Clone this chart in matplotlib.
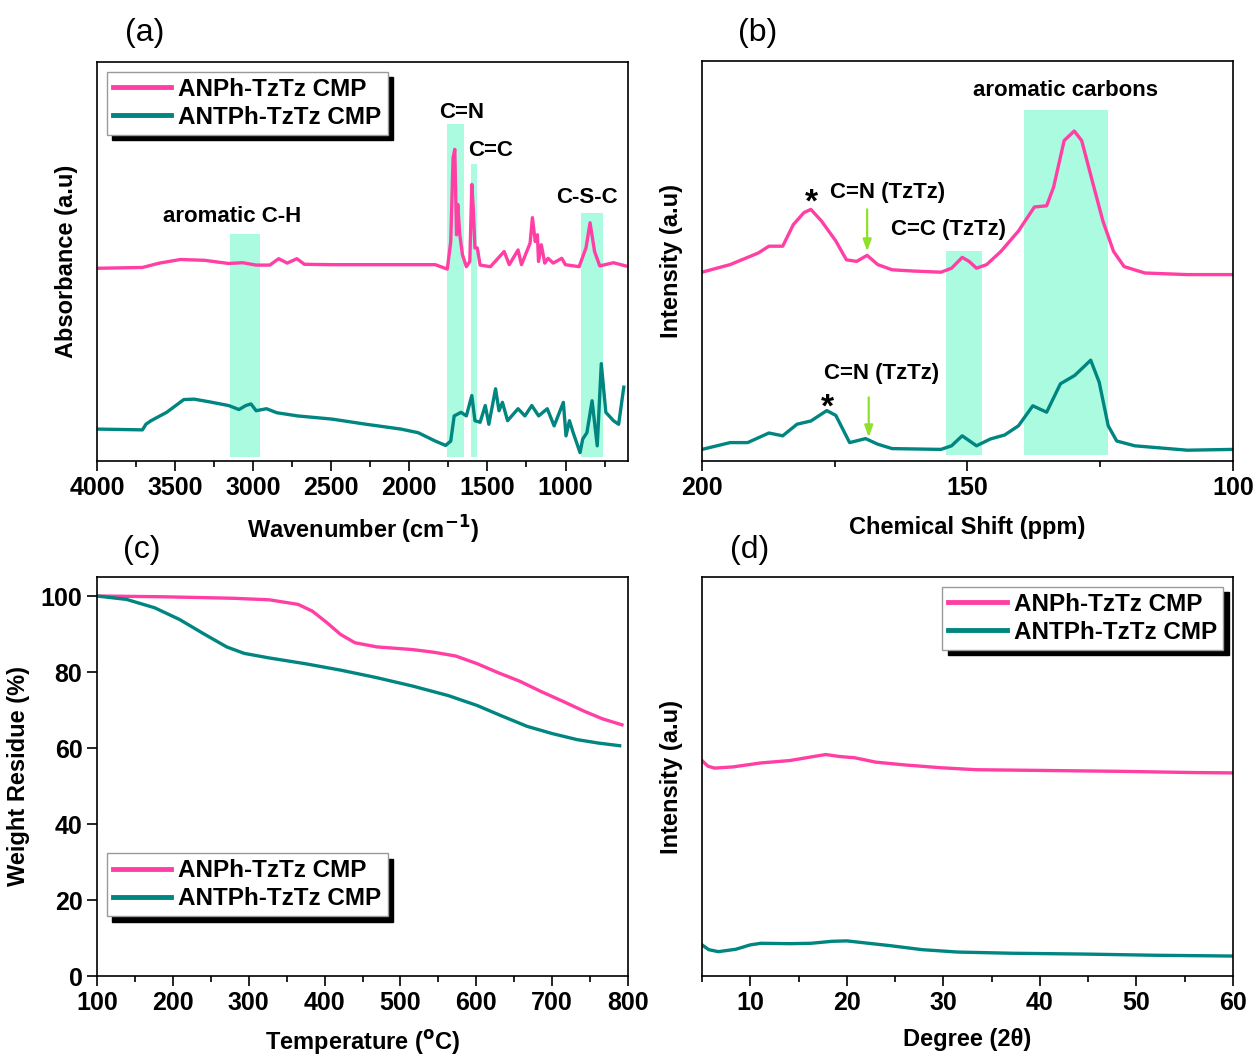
import matplotlib
matplotlib.use("Agg")
import matplotlib.pyplot as plt
from matplotlib.ticker import MultipleLocator

plt.rcParams["font.family"] = ["Liberation Sans", "DejaVu Sans"]
plt.rcParams["font.weight"] = "bold"
plt.rcParams["axes.labelweight"] = "bold"
plt.rcParams["mathtext.default"] = "bf"

PINK = "#ff3fa4"
TEAL = "#008580"
BAND = "#abfbe0"
ARROW = "#8fe02a"
LABELS = ["ANPh-TzTz CMP", "ANTPh-TzTz CMP"]

# (a) FTIR
ftir_x_p = [4000, 3709, 3600, 3466, 3312, 3157, 3069, 2981, 2893, 2837, 2782, 2720, 2672, 2495, 2054, 1834,
            1757, 1735, 1720, 1709, 1698, 1690, 1677, 1660, 1635, 1613, 1600, 1590, 1580, 1565, 1547, 1481,
            1393, 1360, 1304, 1282, 1227, 1212, 1194, 1180, 1173, 1155, 1133, 1112, 1079, 1024, 1001, 913,
            869, 843, 814, 781, 693, 616]
ftir_y_p = [48.3, 48.5, 49.6, 50.5, 50.3, 49.5, 49.7, 49.1, 49.1, 50.7, 49.6, 50.7, 49.3, 49.2, 49.2, 49.2,
            48.1, 55.0, 76.0, 78.1, 56.7, 64.3, 56.7, 51.7, 48.7, 50.0, 69.3, 62.6, 53.4, 53.4, 49.1, 48.7,
            52.5, 49.2, 52.9, 49.2, 54.6, 61.0, 55.0, 56.7, 50.0, 54.2, 49.6, 50.8, 49.6, 50.8, 49.2, 48.7,
            53.4, 59.7, 52.5, 48.9, 49.7, 48.9]
ftir_x_t = [4000, 3709, 3687, 3654, 3554, 3444, 3378, 3290, 3157, 3091, 3047, 3014, 2981, 2915, 2849, 2716,
            2495, 2275, 2054, 1944, 1834, 1768, 1735, 1713, 1669, 1635, 1600, 1580, 1547, 1514, 1491, 1448,
            1426, 1404, 1371, 1304, 1260, 1216, 1172, 1117, 1073, 1014, 997, 975, 951, 907, 890, 863, 830,
            797, 771, 742, 693, 660, 627]
ftir_y_t = [8.0, 7.8, 9.2, 10.1, 12.2, 15.4, 15.5, 14.9, 13.9, 12.9, 13.9, 14.3, 12.6, 13.1, 12.1, 11.3,
            10.5, 9.2, 8.0, 7.1, 5.0, 3.9, 5.0, 11.3, 12.2, 11.3, 16.4, 10.1, 9.7, 13.9, 9.2, 18.1, 12.6,
            14.7, 10.1, 13.1, 11.3, 13.9, 11.3, 13.1, 8.8, 14.7, 6.3, 10.1, 7.1, 2.1, 5.5, 7.1, 15.1, 3.8,
            24.4, 12.2, 10.1, 9.2, 18.5]
ftir_bands = [(3147, 2959, 57.0), (1757, 1648, 84.5), (1607, 1565, 74.4), (901, 759, 62.2)]

# (b) 13C NMR
nmr_x_p = [200, 194.7, 189.4, 187.4, 184.8, 182.8, 180.8, 179.5, 177.5, 174.8, 172.8, 170.9, 168.9, 166.9,
           164.2, 160.3, 155, 153, 151, 149.7, 148.3, 146.4, 143.7, 140.4, 137.4, 135.1, 133.8, 131.8, 129.9,
           128.5, 126.5, 124.5, 122.5, 120.5, 116.6, 108.6, 100]
nmr_y_p = [47.2, 49.1, 52.0, 53.7, 53.7, 59.1, 62.1, 62.9, 60.0, 55.0, 50.3, 49.9, 51.4, 49.1, 47.8, 47.5,
           47.2, 48.2, 50.9, 49.9, 48.2, 49.1, 52.4, 57.5, 63.5, 63.8, 68.4, 80.1, 82.5, 80.1, 70.0, 60.0,
           52.4, 48.6, 47.0, 46.6, 46.6]
nmr_x_t = [200, 194.7, 191.4, 187.4, 184.8, 182.1, 179.5, 176.5, 174.8, 172.2, 169.2, 166.9, 164.2, 155,
           153, 151, 148.3, 145.7, 143, 140.4, 137.7, 135.1, 132.5, 129.8, 126.8, 125.2, 123.5, 121.9, 118.5,
           108.6, 100]
nmr_y_t = [2.9, 4.6, 4.6, 7.0, 6.3, 9.2, 10.0, 12.6, 11.4, 4.6, 5.6, 4.2, 3.1, 2.9, 3.8, 6.3, 3.8, 5.5, 6.5,
           8.8, 13.8, 12.2, 19.3, 21.4, 25.2, 19.7, 8.8, 5.0, 3.8, 2.7, 2.9]
nmr_bands = [(154.1, 147.2, 52.4), (139.3, 123.6, 87.7)]

# (c) TGA
tga_x_p = [100, 186, 280, 327, 365, 384, 403, 421, 440, 469, 516, 544, 573, 601, 629, 657, 685, 714, 742,
           766, 792]
tga_y_p = [100, 99.8, 99.4, 99.0, 97.8, 96.0, 93.0, 89.9, 87.7, 86.6, 85.9, 85.2, 84.2, 82.2, 79.8, 77.6,
           74.9, 72.3, 69.7, 67.7, 66.1]
tga_x_t = [100, 139, 176, 209, 242, 271, 294, 327, 374, 421, 469, 516, 563, 601, 634, 667, 700, 733, 761, 789]
tga_y_t = [100, 99.1, 96.9, 93.8, 89.9, 86.6, 84.9, 83.7, 82.2, 80.5, 78.5, 76.3, 73.8, 71.2, 68.4, 65.7,
           63.8, 62.2, 61.3, 60.6]

# (d) PXRD
xrd_x_p = [5, 5.6, 6.3, 8.2, 11.1, 14.1, 16.3, 17.8, 19.3, 20.8, 23, 26, 29.7, 33.4, 40.8, 48.2, 55.6, 60]
xrd_y_p = [54.0, 52.6, 52.1, 52.4, 53.4, 54.0, 54.9, 55.5, 55.0, 54.7, 53.6, 52.9, 52.2, 51.7, 51.5, 51.3,
           51.0, 50.9]
xrd_x_t = [5, 5.7, 6.7, 8.5, 10, 11.1, 14.1, 16.3, 18.5, 20, 21.5, 24.5, 27.8, 31.5, 37.1, 44.5, 51.9, 60]
xrd_y_t = [7.8, 6.6, 6.1, 6.7, 7.8, 8.2, 8.1, 8.2, 8.7, 8.8, 8.4, 7.6, 6.6, 6.0, 5.7, 5.5, 5.2, 5.0]

W, H = 1254, 1056
fig = plt.figure(figsize=(W / 100, H / 100), dpi=100)


def box(x0, y0, x1, y1):
    return [x0 / W, 1 - y1 / H, (x1 - x0) / W, (y1 - y0) / H]


axa = fig.add_axes(box(97, 62, 628, 461))
axb = fig.add_axes(box(702, 61, 1233, 461))
axc = fig.add_axes(box(97, 577, 628, 976))
axd = fig.add_axes(box(702, 577, 1233, 976))

for ax in (axa, axb, axc, axd):
    for s in ax.spines.values():
        s.set_linewidth(1.2)
    ax.tick_params(which="both", direction="out", width=1.2, labelsize=18, top=False, right=False)
    ax.tick_params(which="major", length=7)
    ax.tick_params(which="minor", length=4)


def add_legend(ax, lines, loc, anchor=None):
    kw = {}
    if anchor is not None:
        kw["bbox_to_anchor"] = anchor
    leg = ax.legend(lines, LABELS, loc=loc, fontsize=17.5, fancybox=False, framealpha=1, edgecolor="#9a9a9a",
                    handlelength=2.4, handletextpad=0.3, labelspacing=0.2, borderpad=0.25,
                    borderaxespad=0.4,
                    shadow={"ox": 4, "oy": -4, "facecolor": "black", "edgecolor": "black", "alpha": 1},
                    **kw)
    leg.get_frame().set_linewidth(1.0)
    for ln in leg.get_lines():
        ln.set_linewidth(3.5)
    return leg


lw = 2.4

# (a)
for x0, x1, top in ftir_bands:
    axa.axvspan(x0, x1, ymin=0.01, ymax=top / 100, color=BAND, lw=0, zorder=0)
la1, = axa.plot(ftir_x_p, ftir_y_p, color=PINK, lw=lw)
la2, = axa.plot(ftir_x_t, ftir_y_t, color=TEAL, lw=lw)
axa.set_xlim(4000, 600)
axa.set_ylim(0, 100)
axa.set_yticks([])
axa.xaxis.set_major_locator(MultipleLocator(500))
axa.xaxis.set_minor_locator(MultipleLocator(250))
axa.set_xlabel("Wavenumber (cm$^{-1}$)", fontsize=17, labelpad=10)
axa.set_ylabel("Absorbance (a.u)", fontsize=17, labelpad=14)
add_legend(axa, [la1, la2], "upper left")
afs = 16
axa.text(3135, 61.3, "aromatic C-H", fontsize=afs, ha="center", va="center")
axa.text(1668, 87.4, "C=N", fontsize=afs, ha="center", va="center")
axa.text(1481, 77.9, "C=C", fontsize=afs, ha="center", va="center")
axa.text(863, 66.0, "C-S-C", fontsize=afs, ha="center", va="center")

# (b)
for x0, x1, top in nmr_bands:
    axb.axvspan(x0, x1, ymin=0.015, ymax=top / 100, color=BAND, lw=0, zorder=0)
axb.plot(nmr_x_p, nmr_y_p, color=PINK, lw=lw)
axb.plot(nmr_x_t, nmr_y_t, color=TEAL, lw=lw)
axb.set_xlim(200, 100)
axb.set_ylim(0, 100)
axb.set_yticks([])
axb.set_xticks([200, 150, 100])
axb.xaxis.set_minor_locator(MultipleLocator(25))
axb.set_xlabel("Chemical Shift (ppm)", fontsize=17, labelpad=12)
axb.set_ylabel("Intensity (a.u)", fontsize=17, labelpad=14)
axb.text(131.5, 92.7, "aromatic carbons", fontsize=afs, ha="center", va="center")
axb.text(179.3, 64.5, "*", fontsize=24, ha="center", va="center")
axb.text(165.1, 67.1, "C=N (TzTz)", fontsize=afs, ha="center", va="center")
axb.text(153.6, 57.9, "C=C (TzTz)", fontsize=afs, ha="center", va="center")
axb.text(166.2, 21.8, "C=N (TzTz)", fontsize=afs, ha="center", va="center")
axb.text(176.4, 13.3, "*", fontsize=24, ha="center", va="center")
arrow = dict(arrowstyle="-|>,head_width=0.25,head_length=0.7", color=ARROW, lw=1.6, shrinkA=0, shrinkB=0)
axb.annotate("", xy=(168.9, 52.4), xytext=(168.9, 62.9), arrowprops=arrow)
axb.annotate("", xy=(168.6, 5.9), xytext=(168.6, 15.9), arrowprops=arrow)

# (c)
lc1, = axc.plot(tga_x_p, tga_y_p, color=PINK, lw=lw)
lc2, = axc.plot(tga_x_t, tga_y_t, color=TEAL, lw=lw)
axc.set_xlim(100, 800)
axc.set_ylim(0, 105)
axc.set_yticks([0, 20, 40, 60, 80, 100])
axc.xaxis.set_major_locator(MultipleLocator(100))
axc.xaxis.set_minor_locator(MultipleLocator(50))
axc.set_xlabel("Temperature ($^{o}$C)", fontsize=17, labelpad=10)
axc.set_ylabel("Weight Residue (%)", fontsize=17, labelpad=8)
add_legend(axc, [lc1, lc2], "lower left", anchor=(0.0, 0.125))

# (d)
ld1, = axd.plot(xrd_x_p, xrd_y_p, color=PINK, lw=lw)
ld2, = axd.plot(xrd_x_t, xrd_y_t, color=TEAL, lw=lw)
axd.set_xlim(5, 60)
axd.set_ylim(0, 100)
axd.set_yticks([])
axd.xaxis.set_major_locator(MultipleLocator(10))
axd.xaxis.set_minor_locator(MultipleLocator(5))
axd.set_xlabel("Degree (2θ)", fontsize=17, labelpad=10)
axd.set_ylabel("Intensity (a.u)", fontsize=17, labelpad=14)
add_legend(axd, [ld1, ld2], "upper right")

for txt, x, y in [("(a)", 145, 33), ("(b)", 758, 33), ("(c)", 142, 550), ("(d)", 750, 550)]:
    fig.text(x / W, 1 - y / H, txt, fontsize=23, fontweight="normal", ha="center", va="center")

fig.savefig("out.png", dpi=100)
